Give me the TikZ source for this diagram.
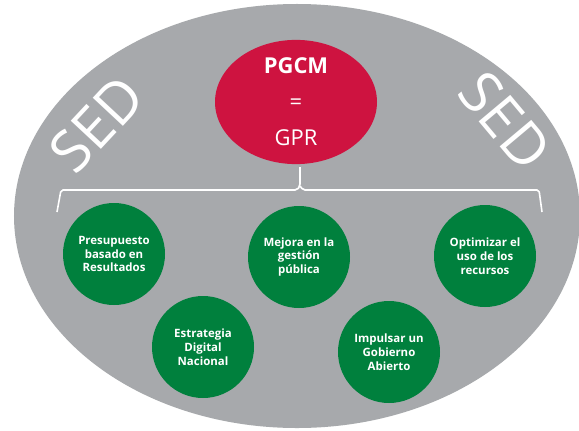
\documentclass[tikz,border=0pt]{standalone}
\usepackage{fontspec}
\setmainfont{Open Sans}
\usepackage{xcolor}
\usepackage{tikz}
\usetikzlibrary{shapes.geometric,positioning,calc}

\definecolor{sedgray}{HTML}{A7A9AC}
\definecolor{pgcmred}{HTML}{CE1340}
\definecolor{goalgreen}{HTML}{00803D}

\begin{document}
\begin{tikzpicture}[x=1bp, y=1bp,
    goal/.style={circle, fill=goalgreen, minimum size=102bp, inner sep=0pt, align=center,
        text=white, font=\bfseries\fontsize{11.5}{13.8}\selectfont},
    sedtext/.style={text=white, font=\fontsize{58}{58}\selectfont, inner sep=0pt},
    brace/.style={draw=white, line width=1.6bp, rounded corners=2bp}]
    \useasboundingbox (0,0) rectangle (579,430);
    \fill[white] (0,0) rectangle (579,430);

    % Background ellipse
    \node[ellipse, fill=sedgray, minimum width=566bp, minimum height=424bp, inner sep=0pt] (sed) at (297,214) {};

    % SED labels
    \node[sedtext, rotate=47] (sed-left) at (97,306) {SED};
    \node[sedtext, rotate=-50] (sed-right) at (505,309) {SED};

    % PGCM = GPR
    \node[ellipse, fill=pgcmred, minimum width=162bp, minimum height=108bp, inner sep=0pt,
        align=center, text=white, font=\fontsize{22}{36}\selectfont] (pgcm) at (296,328) {\textbf{PGCM}\\=\\GPR};

    % Goals
    \node[goal] (budget) at (114,176) {Presupuesto\\basado en\\Resultados};
    \node[goal] (manage) at (299,173) {Mejora en la\\gestión\\pública};
    \node[goal] (optim) at (485,174) {Optimizar el\\uso de los\\recursos};
    \node[goal] (digital) at (203,83) {Estrategia\\Digital\\Nacional};
    \node[goal] (open) at (389,78) {Impulsar un\\Gobierno\\Abierto};

    % Bracket
    \coordinate (tip) at (300,263);
    \coordinate (mid) at (300,240);
    \coordinate (left-end) at (57,218);
    \coordinate (right-end) at (542,218);
    \draw[brace] (tip) -- ($(mid)+(0,4)$) -- ($(mid)+(-3,0)$) -- (61,240) -- (left-end);
    \draw[brace] ($(mid)+(0,4)$) -- ($(mid)+(3,0)$) -- (539,240) -- (right-end);
\end{tikzpicture}
\end{document}
